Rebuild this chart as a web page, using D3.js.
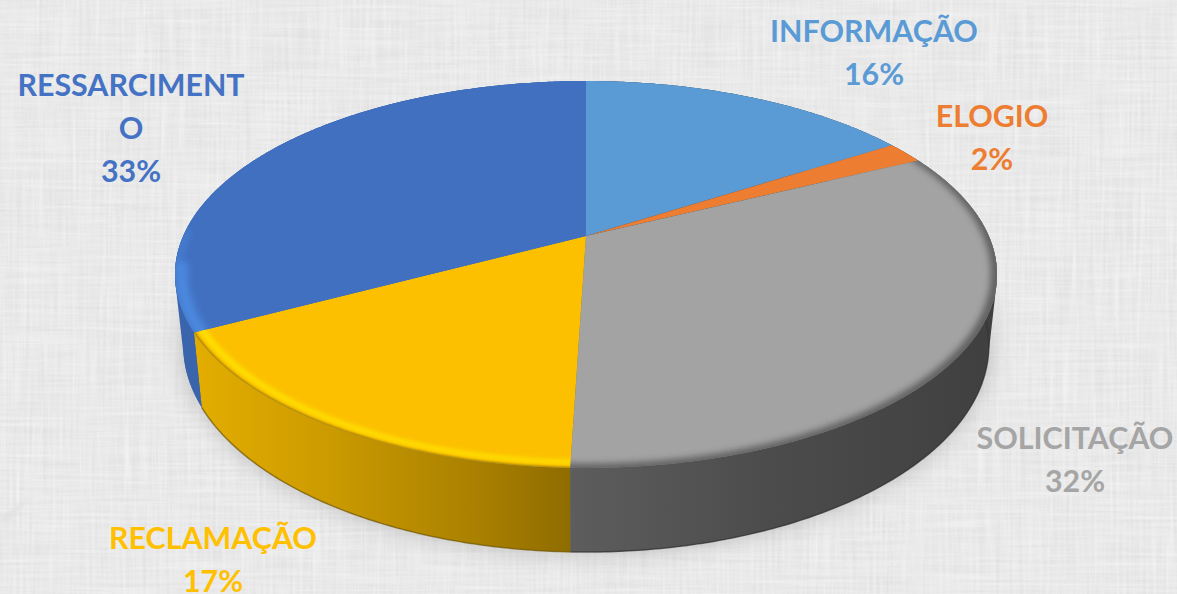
<!DOCTYPE html>
<html>
<head>
<meta charset="utf-8">
<style>
html, body { margin: 0; padding: 0; background: #eeeeee; overflow: hidden; }
text { font-family: "Lato", "Open Sans", sans-serif; font-weight: 700; font-size: 30.4px; text-anchor: middle; }
</style>
<script src="https://cdn.jsdelivr.net/npm/d3@7"></script>
</head>
<body>
<div id="chart"></div>
<script>
var categories = ["INFORMAÇÃO", "ELOGIO", "SOLICITAÇÃO", "RECLAMAÇÃO", "RESSARCIMENTO"];
var percentLabels = ["16%", "2%", "32%", "17%", "33%"];
// slice sizes as they read on the drawn pie
var shares = [15.9, 1.8, 32.8, 16.7, 32.8];
var colors = ["#5b9bd5", "#ed7d31", "#a3a3a3", "#fcc000", "#4170c1"];
var textColors = ["#5b9bd5", "#ed7d31", "#a5a5a5", "#ffc000", "#4472c4"];
var wallColors = ["#44749f", "#b15d24", "#4d4d4d", "#bd9000", "#3a65ac"];

var width = 1177, height = 594;

// perspective of the disc, measured on the picture
var apex = {x: 586, y: 236}, radiusX = 402.8, radiusY = 185.8, tilt = 0.199;

var svg = d3.select("#chart").append("svg")
    .attr("width", width)
    .attr("height", height);
var defs = svg.append("defs");

function project(angle, r) {
    var X = Math.sin(angle) * r,
        Y = -Math.cos(angle) * r,
        w = 1 - tilt * Y;
    return [apex.x + radiusX * X / w, apex.y + radiusY * Y / w];
}

// lower rim of the wall
function projectLow(angle) {
    var p = project(angle, 1);
    return [apex.x + (p[0] - apex.x) * 0.98, apex.y + 68.3 + (p[1] - apex.y) * 1.068];
}

function arcAngles(a0, a1) {
    var n = Math.max(2, Math.ceil((a1 - a0) / 0.01));
    return d3.range(n + 1).map(function(i) { return a0 + (a1 - a0) * i / n; });
}

function rad(deg) {
    return deg * Math.PI / 180;
}

var line = d3.line().curve(d3.curveLinear);

function facePath(d) {
    return line([[apex.x, apex.y]].concat(arcAngles(d.startAngle, d.endAngle).map(function(a) { return project(a, 1); }))) + "Z";
}

function bandPath(a0, a1, r0, r1) {
    var angles = arcAngles(a0, a1);
    var outer = angles.map(function(a) { return project(a, r1); });
    var inner = angles.slice().reverse().map(function(a) { return project(a, r0); });
    return line(outer.concat(inner)) + "Z";
}

function wallPath(d) {
    var angles = arcAngles(d.startAngle, d.endAngle);
    var upper = angles.map(function(a) { return project(a, 1); });
    var lower = angles.slice().reverse().map(projectLow);
    return line(upper.concat(lower)) + "Z";
}

// Background weave
var weave = defs.append("filter").attr("id", "weave")
    .attr("x", 0).attr("y", 0).attr("width", "100%").attr("height", "100%");
weave.append("feTurbulence").attr("type", "fractalNoise")
    .attr("baseFrequency", "0.012 0.3").attr("numOctaves", 3).attr("seed", 4).attr("result", "h");
weave.append("feTurbulence").attr("type", "fractalNoise")
    .attr("baseFrequency", "0.3 0.012").attr("numOctaves", 3).attr("seed", 9).attr("result", "v");
weave.append("feBlend").attr("in", "h").attr("in2", "v").attr("mode", "multiply");
weave.append("feColorMatrix").attr("type", "matrix")
    .attr("values", "0 0 0 0 0.5  0 0 0 0 0.5  0 0 0 0 0.5  0.7 0.7 0 0 -0.28");

svg.append("rect").attr("width", width).attr("height", height).attr("fill", "#f2f2f2");
svg.append("rect").attr("width", width).attr("height", height).attr("filter", "url(#weave)").attr("opacity", 0.5);

[["blur3", 3], ["blur2", 2], ["blur1", 1], ["blur12", 12]].forEach(function(b) {
    defs.append("filter").attr("id", b[0])
        .attr("x", "-10%").attr("y", "-10%").attr("width", "120%").attr("height", "120%")
        .append("feGaussianBlur").attr("stdDeviation", b[1]);
});

// faint streak in the paper, lower left
svg.append("path")
    .attr("d", "M0,518L36,492L6,524Z")
    .attr("fill", "#e2e2e2")
    .attr("filter", "url(#blur2)");

// wall gradients
function addGradient(id, x1, x2, stops) {
    var g = defs.append("linearGradient").attr("id", id)
        .attr("gradientUnits", "userSpaceOnUse")
        .attr("x1", x1).attr("x2", x2).attr("y1", 0).attr("y2", 0);
    stops.forEach(function(s) {
        g.append("stop").attr("offset", s[0]).attr("stop-color", s[1]);
    });
}
addGradient("wallYellow", 195, 571, [[0, "#e3ad00"], [0.35, "#cc9b00"], [0.75, "#a98000"], [1, "#8f6c00"]]);
addGradient("wallGray", 571, 990, [[0, "#5d5d5d"], [0.5, "#4b4b4b"], [1, "#404040"]]);

var slices = d3.pie().sort(null).value(function(d) { return d; })(shares);

// shadow under the pie
var lowerRim = arcAngles(0, 2 * Math.PI).map(projectLow);
var upperRim = arcAngles(0, 2 * Math.PI).map(function(a) { return project(a, 1); });
svg.append("path")
    .attr("d", line(lowerRim) + "Z")
    .attr("fill", "#8a8a8a")
    .attr("opacity", 0.5)
    .attr("filter", "url(#blur12)");

// silhouette of the drum, so the side wall joins both rims
var hull = d3.polygonHull(lowerRim.concat(upperRim));
defs.append("clipPath").attr("id", "leftSide").append("rect")
    .attr("x", 0).attr("y", 0).attr("width", apex.x).attr("height", height);
defs.append("clipPath").attr("id", "rightSide").append("rect")
    .attr("x", apex.x).attr("y", 0).attr("width", width - apex.x).attr("height", height);
svg.append("path").attr("d", line(hull) + "Z").attr("fill", wallColors[4]).attr("clip-path", "url(#leftSide)");
svg.append("path").attr("d", line(hull) + "Z").attr("fill", "#404040").attr("clip-path", "url(#rightSide)");

// walls, back first
var wallFills = [wallColors[0], wallColors[1], "url(#wallGray)", "url(#wallYellow)", wallColors[4]];
svg.selectAll(".wall")
    .data(slices)
    .enter()
    .append("path")
    .attr("class", "wall")
    .attr("d", wallPath)
    .attr("fill", function(d, i) { return wallFills[i]; });

// dark line on the bottom of the front walls
svg.selectAll(".foot")
    .data(slices.filter(function(d) { return d.index == 2 || d.index == 3; }))
    .enter()
    .append("path")
    .attr("class", "foot")
    .attr("d", function(d) { return line(arcAngles(d.startAngle, d.endAngle).map(projectLow)); })
    .attr("fill", "none")
    .attr("stroke", function(d) { return d.index == 3 ? "#7a5c00" : "#333333"; })
    .attr("stroke-width", 1.5)
    .attr("opacity", 0.7);

// top faces
svg.selectAll(".clip")
    .data(slices)
    .enter()
    .append("clipPath")
    .attr("id", function(d) { return "face" + d.index; })
    .append("path")
    .attr("d", facePath);

svg.selectAll(".face")
    .data(slices)
    .enter()
    .append("path")
    .attr("class", "face")
    .attr("d", facePath)
    .attr("fill", function(d, i) { return colors[i]; });

// soft bevel along the rim, only on the slices and stretch of rim that catch it
function addBevel(index, a0, a1, r0, r1, color, blur, opacity) {
    svg.append("g")
        .attr("clip-path", "url(#face" + index + ")")
        .append("path")
        .attr("d", bandPath(a0, a1, r0, r1))
        .attr("fill", color)
        .attr("opacity", opacity)
        .attr("filter", "url(#" + blur + ")");
}
addBevel(4, rad(235), rad(262), 0.97, 1.0, "#4c88de", "blur3", 1);
addBevel(4, rad(258), rad(272), 0.985, 1.0, "#4c88de", "blur3", 0.6);
addBevel(3, rad(175), rad(250), 0.972, 0.988, "#ffe000", "blur2", 1);
addBevel(3, rad(175), rad(250), 0.997, 1.02, "#a37c00", "blur1", 1);
addBevel(2, rad(62), rad(190), 0.985, 1.02, "#5c5c5c", "blur3", 0.9);

// Labels
var labelSpots = [[874, 42], [992, 127], [1075, 449], [213, 549], [131, 96]];
var lineHeight = 43;

var labels = svg.selectAll(".label")
    .data(categories)
    .enter()
    .append("text")
    .attr("class", "label")
    .attr("fill", function(d, i) { return textColors[i]; });

labels.each(function(name, i) {
    // the long name breaks on two lines in the picture
    var rows = name.length > 12 ? [name.slice(0, 12), name.slice(12)] : [name];
    rows.push(percentLabels[i]);
    d3.select(this).selectAll("tspan")
        .data(rows)
        .enter()
        .append("tspan")
        .attr("x", labelSpots[i][0])
        .attr("y", function(r, k) { return labelSpots[i][1] + k * lineHeight; })
        .text(function(r) { return r; });
});
</script>
</body>
</html>
